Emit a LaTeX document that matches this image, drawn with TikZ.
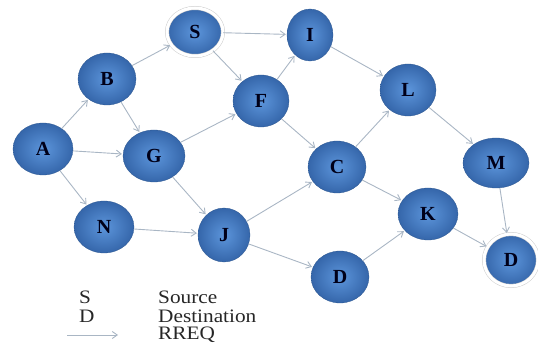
\documentclass[tikz,border=0pt]{standalone}
\usepackage{fontspec}
\setmainfont{Liberation Serif}
\newfontfamily\legfont[FakeStretch=1.12]{Liberation Serif}
\usetikzlibrary{shapes.geometric,arrows.meta}
\definecolor{nodein}{HTML}{5C95DB}
\definecolor{nodeout}{HTML}{3566AA}
\definecolor{edgec}{HTML}{A9B6C4}
\tikzset{
  nd/.style={ellipse, inner sep=0pt, shading=radial, inner color=nodein, outer color=nodeout,
    draw=nodeout!85!black, line width=0.3pt, text=black!90!blue,
    font=\fontsize{20}{20}\selectfont\bfseries},
  halo/.style={draw=black!20, double=white, double distance=3pt, line width=0.5pt},
  rr/.style={draw=edgec, line width=0.9pt, -{Straight Barb[length=5pt,width=7pt]}, shorten >=1pt},
  lg/.style={font=\legfont\fontsize{19}{19}\selectfont, anchor=west, inner sep=0pt, text=black!85}
}
\begin{document}
\begin{tikzpicture}[x=1pt,y=-1pt]
\useasboundingbox (0,0) rectangle (538,347);
\node[nd, minimum width=60, minimum height=52] (A) at (43,149) {A};
\node[nd, minimum width=58, minimum height=52] (B) at (107,79) {B};
\node[nd, halo, minimum width=56, minimum height=48] (S) at (195,32) {S};
\node[nd, minimum width=46, minimum height=52] (I) at (310,35) {I};
\node[nd, minimum width=56, minimum height=52] (F) at (261,101) {F};
\node[nd, minimum width=62, minimum height=52] (G) at (154,156) {G};
\node[nd, minimum width=56, minimum height=52] (L) at (408,90) {L};
\node[nd, minimum width=58, minimum height=52] (C) at (337,167) {C};
\node[nd, minimum width=66, minimum height=50] (M) at (496,163) {M};
\node[nd, minimum width=60, minimum height=52] (N) at (104,227) {N};
\node[nd, minimum width=52, minimum height=54] (J) at (224,235) {J};
\node[nd, minimum width=60, minimum height=52] (K) at (428,214) {K};
\node[nd, minimum width=58, minimum height=52] (D1) at (340,277) {D};
\node[nd, halo, minimum width=54, minimum height=52] (D2) at (511,260) {D};

\draw[rr] (A) -- (B);
\draw[rr] (A) -- (G);
\draw[rr] (A) -- (N);
\draw[rr] (B) -- (S);
\draw[rr] (B) -- (G);
\draw[rr] (S) -- (I);
\draw[rr] (S) -- (F);
\draw[rr] (G) -- (F);
\draw[rr] (G) -- (J);
\draw[rr] (F) -- (I);
\draw[rr] (F) -- (C);
\draw[rr] (I) -- (L);
\draw[rr] (C) -- (L);
\draw[rr] (L) -- (M);
\draw[rr] (N) -- (J);
\draw[rr] (J) -- (C);
\draw[rr] (J) -- (D1);
\draw[rr] (C) -- (K);
\draw[rr] (D1) -- (K);
\draw[rr] (K) -- (D2);
\draw[rr] (M) -- (D2);

\node[lg] (ls) at (79,297) {S};
\node[lg] (ld) at (79,316) {D};
\node[lg] (lsrc) at (158,297) {Source};
\node[lg] (ldst) at (158,316) {Destination};
\node[lg] (lrr) at (158,335) {RREQ};
\coordinate (la) at (67,335);
\coordinate (lb) at (119,335);
\draw[rr] (la) -- (lb);
\end{tikzpicture}
\end{document}
